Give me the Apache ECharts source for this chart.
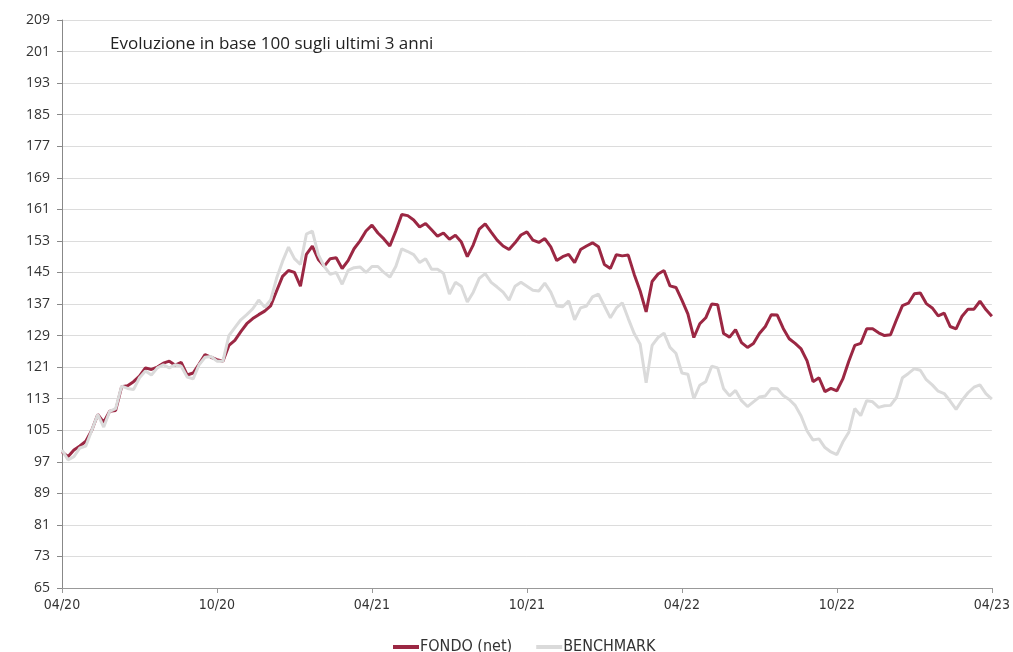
<!DOCTYPE html>
<html>
<head>
<meta charset="utf-8">
<script src="https://cdn.jsdelivr.net/npm/echarts@6/dist/echarts.min.js"></script>
<style>
html,body{margin:0;padding:0;background:#fff;}
#c{width:1013px;height:652px;}
</style>
</head>
<body>
<div id="c"></div>
<script>
// Weekly points, 04/2020 -> 04/2023 (157 weeks)
const tickLabels = ["04/20","10/20","04/21","10/21","04/22","10/22","04/23"];
const weeksPerTick = 26;
const seriesNames = ["FONDO (net)", "BENCHMARK"];
const fondo = [
99.5,98.3,100,101,102.2,105,109,107,109.8,110,
116,116.3,117.3,118.7,120.8,120.4,121,122,122.5,121.5,
122.2,119,119.5,121.8,124.2,123.5,122.9,122.5,126.5,127.8,
130,132,133.3,134.3,135.2,136.5,140.3,144,145.5,145,
141.5,149.6,151.7,148.3,146.6,148.5,148.7,146,148,151,
153,155.5,157,155,153.5,151.7,155.5,159.7,159.4,158.3,
156.5,157.4,155.8,154.2,155,153.4,154.4,152.7,149,152,
156,157.3,155.2,153.2,151.7,150.8,152.5,154.5,155.3,153.2,
152.6,153.6,151.5,148,149,149.6,147.5,150.8,151.7,152.5,
151.5,147,146,149.5,149.2,149.4,144.5,140.3,135,142.7,
144.6,145.5,141.6,141.2,138,134.5,128.5,132,133.5,137,
136.8,129.5,128.6,130.5,127.2,126,127,129.5,131.3,134.3,
134.2,130.8,128.2,127,125.6,122.6,117.3,118.3,114.8,115.6,
115,118,122.5,126.5,127,130.7,130.7,129.7,129,129.2,
133,136.6,137.2,139.6,139.8,137.1,136,134,134.7,131.3,
130.7,133.9,135.7,135.7,137.7,135.6,133.9
];
const benchmark = [
100,97.5,98.3,100.5,101,105,109,105.8,109.8,110.5,
116.2,115.6,115.3,118.3,120,119,120.8,121.6,120.8,121.6,
121.2,118.5,118,121.6,123.5,123.7,122.5,122.5,129,131,
133,134.3,135.8,138,136.2,138,143.5,147.8,151.4,148.5,
147,154.7,155.5,149.5,146.5,144.5,145,142,145.5,146.2,
146.4,145,146.5,146.5,145,143.8,146.5,151,150.3,149.5,
147.5,148.5,145.8,145.8,144.8,139.5,142.5,141.5,137.5,140,
143.5,144.7,142.5,141.3,140,138,141.5,142.5,141.5,140.5,
140.3,142.3,140,136.5,136.3,137.8,133,136,136.5,138.8,
139.5,136.5,133.5,136,137.3,133.3,129.5,126.8,117,126.5,
128.5,129.6,126,124.5,119.5,119.2,113,116.4,117.3,121.2,
120.8,115.5,113.7,115.1,112.5,111,112.2,113.4,113.7,115.6,
115.5,113.8,112.8,111.3,108.6,104.8,102.5,102.8,100.6,99.5,
98.8,102,104.5,110.5,108.7,112.5,112.2,110.8,111.2,111.3,
113.3,118.3,119.4,120.6,120.2,117.8,116.5,114.9,114.3,112.4,
110.3,112.6,114.5,115.9,116.5,114.3,112.9
];
const yMin = 65, yMax = 209, yStep = 8;
const titleText = "Evoluzione in base 100 sugli ultimi 3 anni";

const narrowFont = "'DejaVu Sans Condensed', 'Liberation Sans Narrow', Roboto, sans-serif";
const cats = fondo.map((_, i) => String(i));
const shift = v => v - yMin; // axis runs from 0 so ticks land on 65,73,...

const chart = echarts.init(document.getElementById('c'), null, {renderer: 'canvas'});
chart.setOption({
  animation: false,
  backgroundColor: '#fff',
  title: {
    text: titleText,
    left: 105, top: 31,
    textStyle: {fontFamily: "'Open Sans'", fontWeight: 'normal', fontSize: 17, color: '#222'}
  },
  grid: {left: 62, right: 20, top: 20, bottom: 64, containLabel: false},
  legend: {
    left: 388, top: 634,
    itemWidth: 26, itemHeight: 4, itemGap: 24,
    icon: 'rect',
    textStyle: {fontFamily: narrowFont, fontSize: 16, color: '#333', padding: [0,0,0,-4]},
    data: seriesNames
  },
  xAxis: {
    type: 'category',
    data: cats,
    boundaryGap: false,
    axisLine: {lineStyle: {color: '#999', width: 1}},
    axisTick: {show: true, length: 5, interval: (i) => i % weeksPerTick === 0, lineStyle: {color: '#999'}},
    axisLabel: {
      interval: (i) => i % weeksPerTick === 0,
      formatter: (v, i) => tickLabels[Math.round(i / weeksPerTick)],
      fontFamily: narrowFont, fontSize: 14, color: '#333', margin: 10
    },
    splitLine: {show: false}
  },
  yAxis: {
    type: 'value',
    min: 0, max: yMax - yMin, interval: yStep,
    axisLine: {show: true, lineStyle: {color: '#888', width: 1}},
    axisTick: {show: true, length: 5, lineStyle: {color: '#888'}},
    axisLabel: {
      formatter: v => String(v + yMin),
      fontFamily: "'Open Sans'", fontSize: 14, color: '#333', margin: 12
    },
    splitLine: {show: true, lineStyle: {color: '#dcdcdc', width: 1}}
  },
  series: [
    {
      name: seriesNames[0], type: 'line', data: fondo.map(shift),
      showSymbol: false, symbol: 'none', smooth: false,
      lineStyle: {color: '#9b2743', width: 3}, itemStyle: {color: '#9b2743'}, z: 2
    },
    {
      name: seriesNames[1], type: 'line', data: benchmark.map(shift),
      showSymbol: false, symbol: 'none', smooth: false,
      lineStyle: {color: '#dadada', width: 3}, itemStyle: {color: '#dadada'}, z: 3
    }
  ]
});
</script>
</body>
</html>
